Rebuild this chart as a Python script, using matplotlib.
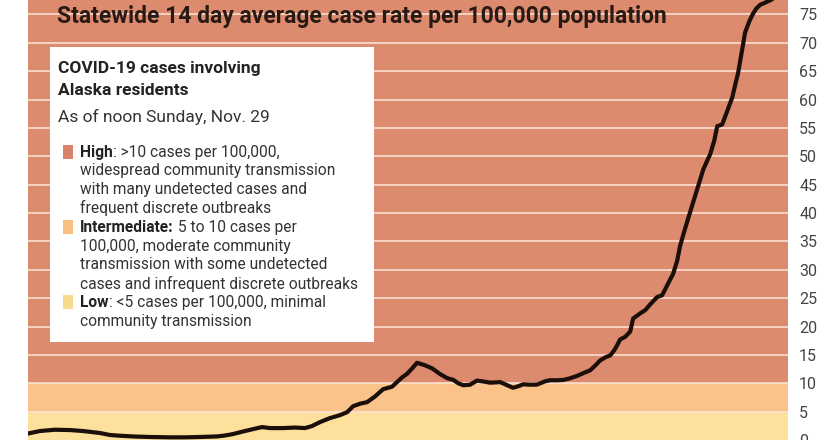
# Statewide 14 day average COVID-19 case rate, Alaska, with risk bands

import matplotlib.pyplot as plt
from matplotlib.patches import Rectangle

# days since start of chart and 14-day average cases per 100,000
days = [0, 4.1, 9.3, 14.5, 19.0, 24.8, 28.3, 31.7, 36.9, 42.1, 49.0, 54.1, 59.3,
        65.2, 67.9, 70.7, 74.8, 78.3, 80.7, 83.4, 87.9, 92.1, 95.5, 97.9, 100.7,
        104.1, 107.6, 110.0, 112.1, 114.5, 116.9, 119.7, 122.4, 125.5, 127.2,
        129.0, 130.7, 132.4, 134.1, 136.9, 139.3, 142.1, 144.5, 146.6, 148.3,
        150.0, 152.4, 154.8, 157.6, 159.3, 162.8, 165.2, 167.2, 169.0, 170.7,
        173.1, 175.5, 178.3, 180.0, 182.4, 184.5, 186.9, 189.3, 192.1, 193.8,
        195.9, 197.2, 199.0, 200.7, 202.1, 203.1, 204.1, 205.9, 207.6, 208.6,
        211.0, 212.8, 214.5, 216.9, 218.6, 220.3, 222.4, 223.8, 224.8, 226.2,
        227.2, 229.0, 230.7, 232.8, 235.2, 236.6, 237.6, 239.3, 241.0, 242.8,
        243.8, 244.8, 246.2, 247.2, 248.6, 249.7, 251.0, 252.4, 253.8, 255.9,
        257.6]
rate = [1.14, 1.58, 1.81, 1.75, 1.58, 1.23, 0.88, 0.75, 0.61, 0.53, 0.47, 0.47,
        0.53, 0.63, 0.79, 1.05, 1.58, 2.0, 2.28, 2.1, 2.1, 2.19, 2.1, 2.46, 3.16,
        3.86, 4.39, 4.9, 5.96, 6.4, 6.67, 7.7, 8.95, 9.39, 10.2, 11.05, 11.67,
        12.6, 13.6, 13.16, 12.63, 11.6, 10.9, 10.6, 10.0, 9.65, 9.74, 10.47,
        10.26, 10.1, 10.2, 9.65, 9.2, 9.47, 9.82, 9.74, 9.77, 10.35, 10.53,
        10.53, 10.58, 10.88, 11.3, 11.93, 12.28, 13.3, 14.0, 14.56, 14.9, 15.8,
        16.7, 17.7, 18.2, 19.1, 21.4, 22.3, 22.9, 23.9, 25.2, 25.5, 27.2, 29.3,
        31.6, 34.2, 36.7, 38.4, 41.4, 44.2, 47.7, 50.4, 52.8, 55.3, 55.6, 57.9,
        60.4, 62.6, 64.7, 68.8, 71.8, 73.7, 74.9, 76.0, 76.7, 77.0, 77.5, 78.0]

yticks = list(range(0, 80, 5))
low_max = 5
mid_max = 10

title = 'Statewide 14 day average case rate per 100,000 population'
box_head = ['COVID-19 cases involving', 'Alaska residents']
box_date = 'As of noon Sunday, Nov. 29'
legend_items = [
    ('High', ': >10 cases per 100,000,',
     ['widespread community transmission', 'with many undetected cases and',
      'frequent discrete outbreaks']),
    ('Intermediate:', ' 5 to 10 cases per',
     ['100,000, moderate community', 'transmission with some undetected',
      'cases and infrequent discrete outbreaks']),
    ('Low', ': <5 cases per 100,000, minimal',
     ['community transmission']),
]

c_high = '#dc8b6e'
c_mid = '#fac389'
c_low = '#fce09b'
sq_colors = ['#d9836a', '#f8bf82', '#f8da8e']
font = ['Roboto', 'DejaVu Sans']

W, H = 840, 440
fig = plt.figure(figsize=(W / 100, H / 100), dpi=100)
fig.patch.set_facecolor('white')
ax = fig.add_axes([28 / W, 0, 760 / W, 1])

ax.axhspan(0, low_max, color=c_low, lw=0, zorder=0)
ax.axhspan(low_max, mid_max, color=c_mid, lw=0, zorder=0)
ax.axhspan(mid_max, 100, color=c_high, lw=0, zorder=0)
for t in yticks[1:]:
    ax.axhline(t, color='#fbe6da', lw=1.1, zorder=1)

ax.plot(days, rate, color='#1c0f0a', lw=3.0, solid_capstyle='round', zorder=3)

ax.set_xlim(0, 262)
ax.set_ylim(0.35, 77.54)
ax.set_xticks([])
ax.set_yticks(yticks)
ax.yaxis.tick_right()
ax.tick_params(axis='y', length=0, pad=8, labelsize=11.5, labelcolor='#444444')
for lab in ax.get_yticklabels():
    lab.set_family(font)
for s in ax.spines.values():
    s.set_visible(False)


def px(x, y):
    return x / W, 1 - y / H


fig.text(*px(57, 17), title, family=font, weight='bold', size=16.5,
         color='#2a1a14', va='center', ha='left', zorder=5)

# white info box
fig.patches.append(Rectangle(px(50, 342), 324 / W, 295 / H, transform=fig.transFigure,
                             facecolor='white', edgecolor='none', zorder=4))

for i, line in enumerate(box_head):
    fig.text(*px(58, 68 + i * 22), line, family=font, weight='bold', size=12.5,
             color='#222222', va='center', zorder=5)
fig.text(*px(58, 117), box_date, family=font, size=12.5, color='#333333',
         va='center', zorder=5)

fig.canvas.draw()
renderer = fig.canvas.get_renderer()
y = 152
step = 18.8
for (bold, rest, more), sq in zip(legend_items, sq_colors):
    fig.patches.append(Rectangle(px(63, y + 7), 10 / W, 14 / H, transform=fig.transFigure,
                                 facecolor=sq, edgecolor='none', zorder=5))
    tb = fig.text(*px(80, y), bold, family=font, weight='bold', size=11.2,
                  color='#222222', va='center', zorder=5)
    wb = tb.get_window_extent(renderer).width
    fig.text(*px(80 + wb, y), rest, family=font, size=11.2, color='#333333',
             va='center', zorder=5)
    y += step
    for line in more:
        fig.text(*px(80, y), line, family=font, size=11.2, color='#333333',
                 va='center', zorder=5)
        y += step

fig.savefig('out.png', dpi=100)
